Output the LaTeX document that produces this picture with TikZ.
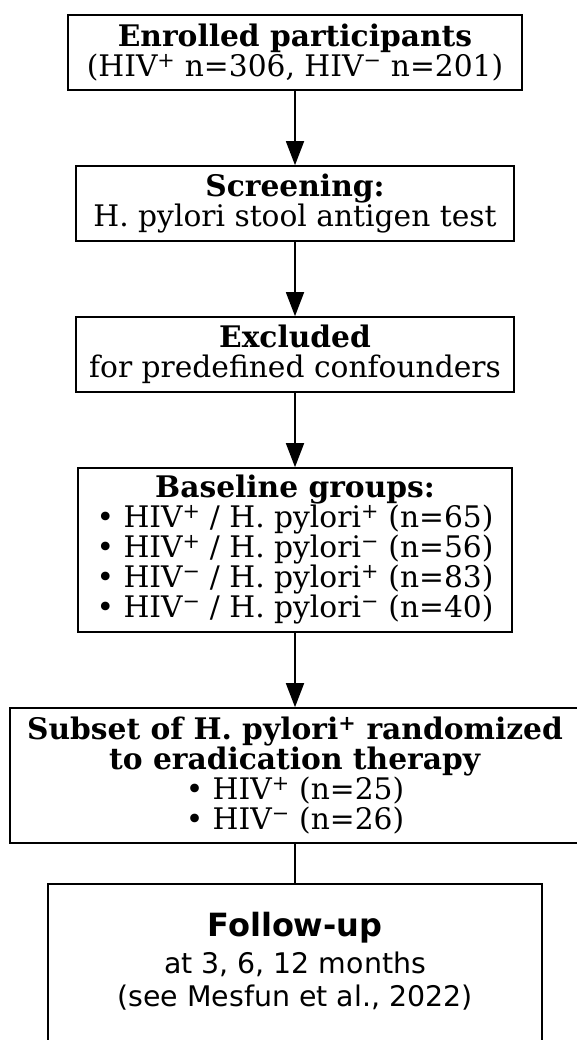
\documentclass[tikz,border=0pt]{standalone}
\usepackage{fontspec}
\setmainfont{DejaVu Serif}
\newfontfamily\sansf{DejaVu Sans}
\usetikzlibrary{arrows.meta}
\newcommand{\pos}{\textsuperscript{+}}
\newcommand{\negt}{\textsuperscript{−}}
\begin{document}
\begin{tikzpicture}[x=1pt,y=1pt,
  boxs/.style={draw=black,line width=1.6pt,fill=white,align=center,inner sep=0pt,
    font=\fontsize{29.7}{30}\selectfont},
  arr/.style={line width=1.6pt,-{Triangle[width=18pt,length=24pt]}},
  ln/.style={line width=1.6pt}]
\useasboundingbox (0,0) rectangle (577,-1040);
\node[boxs,minimum width=454pt,minimum height=75pt] (b1) at (295,-52.5)
  {\textbf{Enrolled participants}\\(HIV\pos{} n=306, HIV\negt{} n=201)};
\node[boxs,minimum width=438pt,minimum height=75pt] (b2) at (295,-203.5)
  {\textbf{Screening:}\\H. pylori stool antigen test};
\node[boxs,minimum width=438pt,minimum height=75pt] (b3) at (295,-354.5)
  {\textbf{Excluded}\\for predefined confounders};
\node[boxs,minimum width=434pt,minimum height=164pt] (b4) at (295,-550)
  {\textbf{Baseline groups:}\\• HIV\pos{} / H. pylori\pos{} (n=65)\\• HIV\pos{} / H. pylori\negt{} (n=56)\\• HIV\negt{} / H. pylori\pos{} (n=83)\\• HIV\negt{} / H. pylori\negt{} (n=40)};
\node[boxs,minimum width=570pt,minimum height=135pt] (b5) at (295,-775.5)
  {\textbf{Subset of H. pylori\pos{} randomized}\\\textbf{to eradication therapy}\\• HIV\pos{} (n=25)\\• HIV\negt{} (n=26)};
\node[boxs,minimum width=494pt,minimum height=180pt,anchor=north] (b6) at (295,-883) {};
\node[align=center,anchor=north,inner sep=0pt,font=\sansf\fontsize{28.4}{33}\selectfont] (t6) at (295,-912)
  {{\fontsize{32}{33}\selectfont\bfseries Follow-up}\\[4pt]at 3, 6, 12 months\\(see Mesfun et al., 2022)};
\draw[arr] (b1.south) -- (b2.north);
\draw[arr] (b2.south) -- (b3.north);
\draw[arr] (b3.south) -- (b4.north);
\draw[arr] (b4.south) -- (b5.north);
\draw[ln] (b5.south) -- (b6.north);
\end{tikzpicture}
\end{document}
